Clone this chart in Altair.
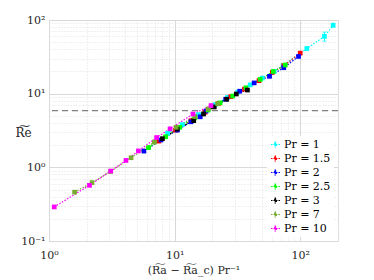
import altair as alt
import pandas as pd

series = ["Pr = 1", "Pr = 1.5", "Pr = 2", "Pr = 2.5", "Pr = 3", "Pr = 7", "Pr = 10"]
colors = ["#00FFFF", "#FF0000", "#0000FF", "#00FF00", "#000000", "#77AC30", "#FF00FF"]

x_pr1 = [8.8, 11.5, 15.5, 21, 26.5, 31.8, 40, 50, 62, 73, 113, 156, 183]
y_pr1 = [2.9, 3.8, 5.2, 7.1, 8.9, 10.5, 13.2, 16.3, 20, 24, 41, 60, 85]
e_pr1 = [0.1, 0.1, 0.15, 0.2, 0.25, 0.3, 0.4, 0.5, 0.6, 0.8, 1.5, 8.5, 5]

x_pr15 = [7.5, 10.2, 13.5, 17.5, 22.5, 28, 36, 47, 60, 74, 100]
y_pr15 = [2.27, 3.2, 4.3, 5.6, 7.4, 9.1, 11.5, 15, 19.5, 24, 35.5]
e_pr15 = [0.08, 0.1, 0.12, 0.15, 0.2, 0.25, 0.3, 0.4, 0.5, 0.7, 1.2]

x_pr2 = [5.7, 7.8, 10.5, 13.5, 16, 17.8, 25.5, 33, 43, 57, 74, 97]
y_pr2 = [1.66, 2.35, 3.2, 4.15, 4.85, 5.8, 8.4, 10.8, 14, 17.2, 22.5, 32]
e_pr2 = [0.05, 0.07, 0.1, 0.12, 0.15, 0.15, 0.2, 0.3, 0.4, 0.5, 0.7, 1.0]

x_pr25 = [6.2, 8.5, 11, 14.5, 18.5, 23, 29, 37, 48, 61, 76]
y_pr25 = [1.85, 2.6, 3.5, 4.7, 6.0, 7.5, 9.3, 12, 15.6, 20, 24.5]
e_pr25 = [0.05, 0.08, 0.1, 0.12, 0.15, 0.2, 0.25, 0.3, 0.4, 0.6, 0.8]

x_pr3 = [8, 10.5, 14.2, 17, 20.7, 26, 31, 38]
y_pr3 = [2.45, 3.3, 4.3, 5.3, 6.6, 8.4, 9.9, 11.2]
e_pr3 = [0.07, 0.1, 0.12, 0.15, 0.2, 0.25, 0.3, 0.35]

x_pr7 = [1.6, 2.2, 3.1, 4.5, 6.9, 10.3, 14.5, 18.5, 22]
y_pr7 = [0.46, 0.62, 0.88, 1.35, 2.2, 3.5, 4.9, 6.2, 7.3]
e_pr7 = [0.01, 0.02, 0.03, 0.04, 0.06, 0.1, 0.12, 0.15, 0.2]

x_pr10 = [1.1, 2.1, 3.1, 4.1, 5.15, 7.2, 9.2, 14, 19.5]
y_pr10 = [0.29, 0.57, 0.89, 1.24, 1.67, 2.54, 3.33, 5.3, 6.9]
e_pr10 = [0.01, 0.015, 0.02, 0.03, 0.04, 0.06, 0.08, 0.12, 0.15]

threshold = [5.9]

x_major = [1, 10, 100]
x_minor = [2, 3, 4, 5, 6, 7, 8, 9, 20, 30, 40, 50, 60, 70, 80, 90, 200]
y_major = [0.1, 1, 10, 100]
y_minor = [0.2, 0.3, 0.4, 0.5, 0.6, 0.7, 0.8, 0.9, 2, 3, 4, 5, 6, 7, 8, 9,
           20, 30, 40, 50, 60, 70, 80, 90]

all_x = [x_pr1, x_pr15, x_pr2, x_pr25, x_pr3, x_pr7, x_pr10]
all_y = [y_pr1, y_pr15, y_pr2, y_pr25, y_pr3, y_pr7, y_pr10]
all_e = [e_pr1, e_pr15, e_pr2, e_pr25, e_pr3, e_pr7, e_pr10]

rows = []
for s, xs, ys, es in zip(series, all_x, all_y, all_e):
    for i, (xv, yv, ev) in enumerate(zip(xs, ys, es)):
        rows.append({"series": s, "x": xv, "y": yv, "lo": yv - ev, "hi": yv + ev, "i": i})
df = pd.DataFrame(rows)

font = "DejaVu Serif"
label_expr = ("datum.value == 1 ? '10⁰' : datum.value == 10 ? '10¹' : "
              "datum.value == 100 ? '10²' : abs(datum.value - 0.1) < 1e-9 ? '10⁻¹' : ''")
major_test_x = "datum.value == 1 || datum.value == 10 || datum.value == 100"
major_test_y = "datum.value == 1 || datum.value == 10 || datum.value == 100 || abs(datum.value - 0.1) < 1e-9"

xscale = alt.Scale(type="log", domain=[1, 200], nice=False)
yscale = alt.Scale(type="log", domain=[0.1, 100], nice=False)

xaxis = alt.Axis(
    values=x_major + x_minor, labelExpr=label_expr, labelFont=font, labelFontSize=11,
    labelColor="#262626", labelPadding=8, ticks=False, domain=False,
    gridColor={"condition": {"test": major_test_x, "value": "#d9d9d9"}, "value": "#e0e0e0"},
    gridDash={"condition": {"test": major_test_x, "value": []}, "value": [1, 2]},
    title="(R͠a − R͠a_c) Pr⁻¹", titleFont=font, titleFontSize=11, titleFontWeight="normal",
    titleColor="#262626", titlePadding=4, labelFlush=False, labelOverlap=False,
)
yaxis = alt.Axis(
    values=y_major + y_minor, labelExpr=label_expr, labelFont=font, labelFontSize=11,
    labelColor="#262626", labelPadding=4, ticks=False, domain=False,
    gridColor={"condition": {"test": major_test_y, "value": "#d9d9d9"}, "value": "#e0e0e0"},
    gridDash={"condition": {"test": major_test_y, "value": []}, "value": [1, 2]},
    title="R͠e", titleFont=font, titleFontSize=12, titleFontWeight="normal",
    titleColor="#262626", titleAngle=0, titleX=-26, titleY=112, titleAlign="center",
    titleBaseline="middle", labelFlush=False, labelOverlap=False,
)

cscale = alt.Scale(domain=series, range=colors)
color = alt.Color(
    "series:N",
    scale=cscale,
    legend=alt.Legend(
        title=None, orient="none", legendX=218, legendY=116,
        labelFont=font, labelFontSize=11, labelColor="#000000",
        symbolType="M-1,0H1M0,-0.55V0.55M-0.22,-0.55H0.22M-0.22,0.55H0.22M-0.18,-0.18H0.18V0.18H-0.18Z",
        symbolSize=81, symbolStrokeWidth=1.2, symbolDash=[1.5, 1],
        rowPadding=2, labelOffset=3, fillColor="white", padding=3,
    ),
)
color_nolegend = alt.Color("series:N", scale=cscale, legend=None)

base = alt.Chart(df)

lines = base.mark_line(strokeDash=[1.5, 1.5], strokeWidth=1.2).encode(
    x=alt.X("x:Q", scale=xscale, axis=xaxis),
    y=alt.Y("y:Q", scale=yscale, axis=yaxis),
    color=color,
    order="i:Q",
)

bars = base.mark_rule(strokeWidth=1).encode(
    x="x:Q", y="lo:Q", y2="hi:Q", color=color_nolegend,
)
caps_lo = base.mark_tick(orient="horizontal", size=4, thickness=1).encode(
    x="x:Q", y="lo:Q", color=color_nolegend,
)
caps_hi = base.mark_tick(orient="horizontal", size=4, thickness=1).encode(
    x="x:Q", y="hi:Q", color=color_nolegend,
)

points = base.mark_point(shape="square", filled=True, size=22, opacity=1).encode(
    x="x:Q", y="y:Q", color=color_nolegend,
)

dash = alt.Chart(pd.DataFrame({"t": threshold})).mark_rule(
    color="#808080", strokeDash=[6, 4], strokeWidth=1.3
).encode(y="t:Q")

chart = alt.layer(dash, lines, bars, caps_lo, caps_hi, points).properties(
    width=289, height=221,
    autosize=alt.AutoSizeParams(type="none"),
    padding={"left": 41, "top": 12, "right": 28, "bottom": 38},
).configure_view(stroke="#888888", strokeWidth=1).configure(background="white")

chart.save("out.html", embed_options={"renderer": "svg", "actions": False})
